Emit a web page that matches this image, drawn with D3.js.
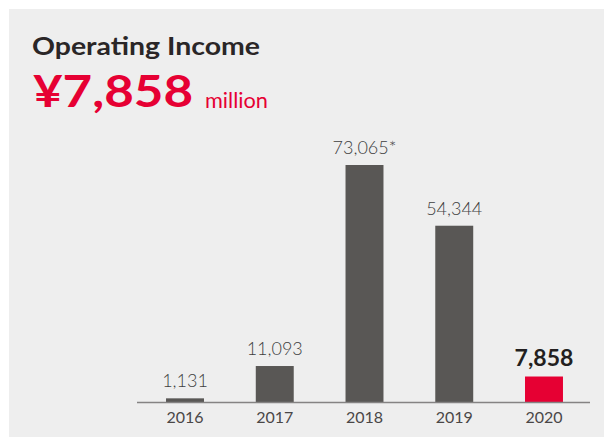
<!DOCTYPE html>
<html>
<head>
<meta charset="utf-8">
<script src="https://cdn.jsdelivr.net/npm/d3@7"></script>
<style>
  html, body { margin: 0; padding: 0; background: #ffffff; }
  svg { display: block; }
</style>
</head>
<body>
<svg id="chart" width="604" height="437"></svg>
<script>
// Operating income by fiscal year (¥ million)
const years = ["2016", "2017", "2018", "2019", "2020"];
const values = [1131, 11093, 73065, 54344, 7858];
const valueLabels = ["1,131", "11,093", "73,065*", "54,344", "7,858"];
const highlightYear = "2020";
const titleText = "Operating Income";
const headlineValue = "¥7,858";
const headlineUnit = "million";

const svg = d3.select("#chart");
const font = "Lato, 'Noto Sans', sans-serif";

// panel background
svg.append("rect")
  .attr("x", 9).attr("y", 9)
  .attr("width", 595).attr("height", 428)
  .attr("fill", "#eeeeee");

// heading
svg.append("text")
  .attr("x", 32).attr("y", 55)
  .attr("font-family", font).attr("font-weight", 700)
  .attr("font-size", 25).attr("fill", "#2a2627")
  .attr("textLength", 228).attr("lengthAdjust", "spacingAndGlyphs")
  .text(titleText);

svg.append("text")
  .attr("x", 33).attr("y", 107)
  .attr("font-family", font).attr("font-weight", 700)
  .attr("font-size", 43).attr("fill", "#e60033")
  .attr("textLength", 160).attr("lengthAdjust", "spacingAndGlyphs")
  .text(headlineValue);

svg.append("text")
  .attr("x", 205).attr("y", 108)
  .attr("font-family", font).attr("font-weight", 400)
  .attr("font-size", 21).attr("fill", "#e60033")
  .attr("textLength", 63).attr("lengthAdjust", "spacingAndGlyphs")
  .text(headlineUnit);

// scales
const baseY = 402;
const x = d3.scaleBand()
  .domain(years)
  .range([140, 589])
  .paddingInner(0.577)
  .paddingOuter(0.29);

const y = d3.scaleLinear()
  .domain([0, d3.max(values)])
  .range([baseY, 165]);

const data = years.map((yr, i) => ({ year: yr, value: values[i], label: valueLabels[i] }));

// bars
svg.append("g").selectAll("rect")
  .data(data)
  .join("rect")
  .attr("x", d => x(d.year))
  .attr("y", d => y(d.value))
  .attr("width", x.bandwidth())
  .attr("height", d => y(0) - y(d.value))
  .attr("fill", d => d.year === highlightYear ? "#e60033" : "#595755");

// x axis
const axis = svg.append("g")
  .attr("transform", `translate(0,${baseY})`)
  .call(d3.axisBottom(x).tickSize(0).tickPadding(10));
axis.select(".domain").remove();
axis.selectAll("text")
  .attr("font-family", font)
  .attr("font-size", 16)
  .attr("fill", "#4a4747");

svg.append("line")
  .attr("x1", 137).attr("x2", 590)
  .attr("y1", baseY + 0.5).attr("y2", baseY + 0.5)
  .attr("stroke", "#858383").attr("stroke-width", 1.5);

// value labels
svg.append("g").selectAll("text")
  .data(data)
  .join("text")
  .attr("x", d => x(d.year) + x.bandwidth() / 2)
  .attr("y", d => y(d.value) - 11)
  .attr("text-anchor", "middle")
  .attr("font-family", font)
  .attr("font-weight", d => d.year === highlightYear ? 700 : 300)
  .attr("font-size", d => d.year === highlightYear ? 23 : 18)
  .attr("fill", d => d.year === highlightYear ? "#231f20" : "#403e3e")
  .text(d => d.label);
</script>
</body>
</html>
